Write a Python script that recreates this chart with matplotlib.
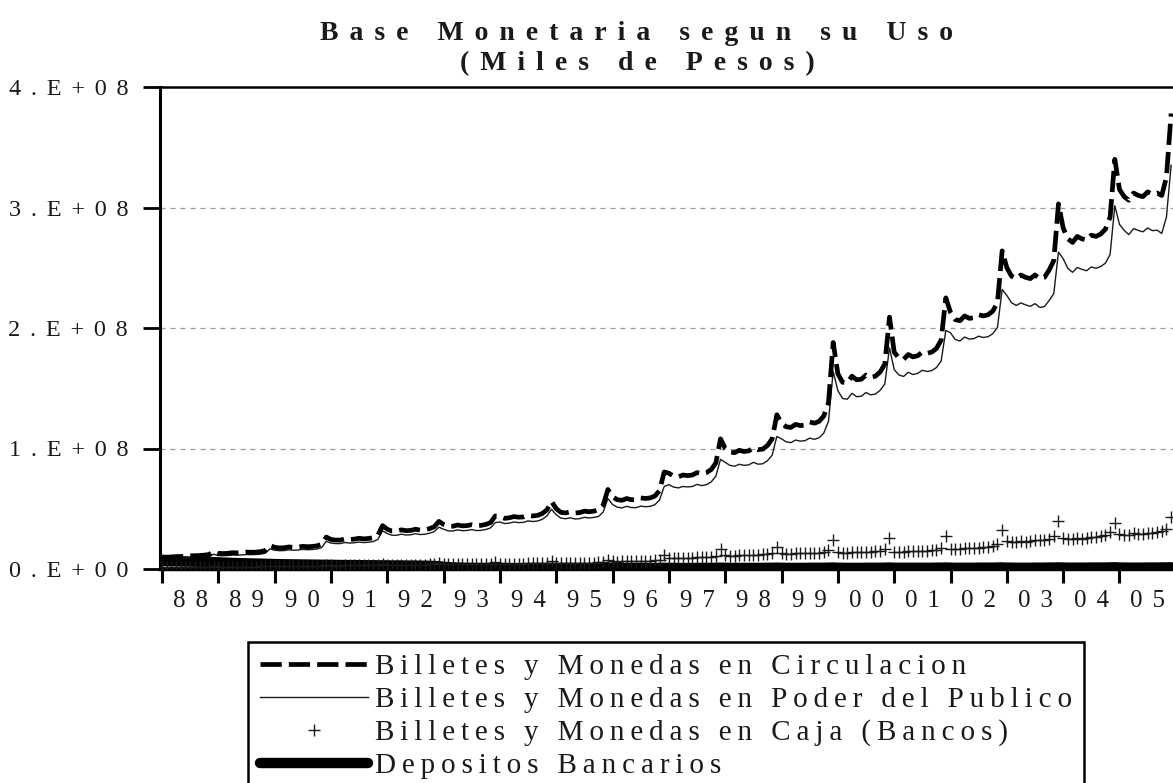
"""Base Monetaria segun su Uso (Miles de Pesos), 1988-2005, serie mensual."""
import numpy as np
import matplotlib
matplotlib.use("Agg")
import matplotlib.pyplot as plt

# ---------------------------------------------------------------------------
# Datos (millones = 1e6 miles de pesos), enero..diciembre
# ---------------------------------------------------------------------------
anio_inicio = 1988

circulacion = [
    10.0, 9.8, 10.0, 10.3, 10.4, 10.6, 11.0, 11.0, 11.2, 11.5, 12.0, 14.5,            # 88
    13.0, 12.8, 13.0, 13.5, 13.4, 13.6, 14.0, 13.9, 14.0, 14.4, 15.3, 19.5,           # 89
    18.0, 17.5, 17.6, 18.3, 18.0, 18.2, 18.8, 18.5, 18.7, 19.2, 20.5, 26.5,           # 90
    24.5, 24.0, 24.0, 25.0, 24.5, 24.8, 25.5, 25.0, 25.3, 26.0, 28.0, 36.0,           # 91
    33.0, 31.5, 31.5, 32.5, 31.8, 32.0, 33.0, 32.3, 32.5, 33.5, 35.0, 39.5,           # 92
    37.0, 35.5, 35.5, 36.5, 35.8, 36.0, 36.8, 36.0, 36.2, 37.0, 38.5, 44.0,           # 93
    43.5, 42.0, 42.5, 43.5, 43.0, 43.2, 44.5, 44.0, 44.5, 46.0, 49.0, 56.0,           # 94
    50.0, 47.0, 46.5, 47.5, 46.5, 46.8, 48.0, 47.5, 48.0, 49.0, 53.0, 66.0,           # 95
    60.0, 57.5, 57.0, 58.5, 57.5, 57.5, 59.0, 58.5, 59.0, 60.5, 65.0, 80.5,           # 96
    79.5, 77.0, 76.5, 78.0, 77.5, 78.0, 80.0, 79.0, 80.0, 82.5, 88.0, 108.0,          # 97
    100.0, 97.0, 96.5, 98.5, 97.5, 98.0, 100.5, 99.0, 99.5, 102.5, 108.0, 128.0,      # 98
    121.0, 118.0, 117.5, 120.0, 119.0, 119.5, 122.0, 121.0, 122.5, 127.0, 138.0, 188.0,  # 99
    162.0, 155.0, 154.5, 160.0, 157.0, 157.5, 161.0, 159.0, 160.0, 163.5, 170.0, 209.0,  # 00
    180.0, 175.0, 174.0, 178.0, 176.0, 177.0, 180.0, 179.0, 180.0, 183.0, 190.0, 225.0,  # 01
    213.0, 207.0, 206.0, 210.0, 208.0, 208.5, 211.0, 210.0, 211.0, 214.0, 221.0, 264.0,  # 02
    250.0, 243.0, 241.0, 244.0, 242.0, 241.0, 244.0, 241.0, 242.0, 248.0, 256.0, 303.0,  # 03
    283.0, 274.0, 271.0, 276.0, 274.0, 273.0, 277.0, 276.0, 278.0, 282.0, 292.0, 340.0,  # 04
    315.0, 309.0, 306.0, 312.0, 310.0, 309.0, 313.0, 311.0, 312.0, 310.0, 325.0, 378.0,  # 05
]

poder_publico = [
    8.5, 8.4, 8.6, 8.8, 8.9, 9.1, 9.4, 9.4, 9.6, 9.8, 10.2, 12.3,
    11.1, 11.0, 11.2, 11.6, 11.5, 11.7, 12.0, 11.9, 12.0, 12.3, 13.1, 16.7,
    15.6, 15.2, 15.3, 15.9, 15.6, 15.8, 16.3, 16.0, 16.2, 16.6, 17.7, 23.0,
    21.5, 21.1, 21.1, 22.0, 21.5, 21.8, 22.4, 21.9, 22.2, 22.8, 24.6, 31.7,
    29.4, 28.0, 28.0, 28.9, 28.2, 28.4, 29.3, 28.6, 28.8, 29.7, 31.0, 34.7,
    33.0, 31.6, 31.6, 32.5, 31.8, 32.0, 32.7, 31.9, 32.1, 32.8, 34.1, 38.5,
    39.0, 37.7, 38.1, 39.0, 38.5, 38.7, 39.9, 39.4, 39.8, 41.2, 44.0, 49.5,
    45.0, 42.2, 41.7, 42.5, 41.5, 41.8, 42.9, 42.4, 42.8, 43.6, 47.2, 58.5,
    53.5, 51.3, 50.7, 52.0, 51.0, 50.9, 52.2, 51.7, 52.0, 53.3, 57.2, 68.5,
    70.0, 68.0, 67.3, 68.5, 68.1, 68.5, 70.2, 69.2, 70.0, 72.2, 77.0, 91.0,
    88.5, 86.0, 85.3, 86.9, 86.0, 86.4, 88.5, 87.0, 87.3, 89.9, 94.5, 110.0,
    108.0, 105.5, 104.9, 107.0, 106.1, 106.5, 108.6, 107.6, 108.9, 112.8, 122.5, 164.0,
    148.0, 141.5, 140.9, 145.8, 143.0, 143.4, 146.5, 144.5, 145.2, 148.3, 153.5, 183.5,
    165.5, 161.0, 159.8, 163.2, 161.4, 162.3, 164.9, 163.9, 164.6, 167.2, 172.5, 198.0,
    196.0, 190.5, 189.2, 192.5, 190.8, 191.2, 193.2, 192.1, 192.8, 195.2, 200.5, 232.0,
    227.0, 221.0, 218.7, 220.8, 219.2, 218.0, 220.2, 217.1, 217.7, 222.8, 228.5, 263.0,
    257.5, 249.5, 246.2, 250.2, 248.7, 247.5, 250.7, 249.6, 251.0, 253.8, 261.0, 301.5,
    286.0, 281.0, 277.5, 282.5, 281.0, 279.8, 283.0, 280.8, 281.2, 278.5, 292.0, 335.0,
]

caja_bancos = [
    1.5, 1.4, 1.4, 1.5, 1.5, 1.5, 1.6, 1.6, 1.6, 1.7, 1.8, 2.2,
    1.9, 1.8, 1.8, 1.9, 1.9, 1.9, 2.0, 2.0, 2.0, 2.1, 2.2, 2.8,
    2.4, 2.3, 2.3, 2.4, 2.4, 2.4, 2.5, 2.5, 2.5, 2.6, 2.8, 3.5,
    3.0, 2.9, 2.9, 3.0, 3.0, 3.0, 3.1, 3.1, 3.1, 3.2, 3.4, 4.3,
    3.6, 3.5, 3.5, 3.6, 3.6, 3.6, 3.7, 3.7, 3.7, 3.8, 4.0, 4.8,
    4.0, 3.9, 3.9, 4.0, 4.0, 4.0, 4.1, 4.1, 4.1, 4.2, 4.4, 5.5,
    4.5, 4.3, 4.4, 4.5, 4.5, 4.5, 4.6, 4.6, 4.7, 4.8, 5.0, 6.5,
    5.0, 4.8, 4.8, 5.0, 5.0, 5.0, 5.1, 5.1, 5.2, 5.4, 5.8, 7.5,
    6.5, 6.2, 6.3, 6.5, 6.5, 6.6, 6.8, 6.8, 7.0, 7.2, 7.8, 12.0,
    9.5, 9.0, 9.2, 9.5, 9.4, 9.5, 9.8, 9.8, 10.0, 10.3, 11.0, 17.0,
    11.5, 11.0, 11.2, 11.6, 11.5, 11.6, 12.0, 12.0, 12.2, 12.6, 13.5, 18.0,
    13.0, 12.5, 12.6, 13.0, 12.9, 13.0, 13.4, 13.4, 13.6, 14.2, 15.5, 24.0,
    14.0, 13.5, 13.6, 14.2, 14.0, 14.1, 14.5, 14.5, 14.8, 15.2, 16.5, 25.5,
    14.5, 14.0, 14.2, 14.8, 14.6, 14.7, 15.1, 15.1, 15.4, 15.8, 17.5, 27.0,
    17.0, 16.5, 16.8, 17.5, 17.2, 17.3, 17.8, 17.9, 18.2, 18.8, 20.5, 32.0,
    23.0, 22.0, 22.3, 23.2, 22.8, 23.0, 23.8, 23.9, 24.3, 25.2, 27.5, 40.0,
    25.5, 24.5, 24.8, 25.8, 25.3, 25.5, 26.3, 26.4, 27.0, 28.2, 31.0, 38.5,
    29.0, 28.0, 28.5, 29.5, 29.0, 29.2, 30.0, 30.2, 30.8, 31.5, 33.0, 43.0,
]

depositos = [
    6.8, 6.7, 6.6, 6.5, 6.4, 6.3, 6.2, 6.1, 6.0, 5.9, 5.8, 5.7,
    5.5, 5.3, 5.2, 5.0, 4.9, 4.8, 4.7, 4.6, 4.5, 4.4, 4.3, 4.2,
    4.1, 4.0, 3.9, 3.9, 3.8, 3.8, 3.7, 3.7, 3.6, 3.6, 3.5, 3.5,
    3.4, 3.4, 3.3, 3.3, 3.2, 3.2, 3.2, 3.1, 3.1, 3.1, 3.0, 3.0,
    3.0, 2.9, 2.9, 2.9, 2.8, 2.8, 2.8, 2.7, 2.7, 2.6, 2.5, 2.3,
    1.8, 1.5, 1.3, 1.2, 1.1, 1.0, 1.0, 0.9, 0.9, 0.9, 0.9, 1.0,
    0.9, 0.9, 0.8, 0.8, 0.8, 0.8, 0.9, 0.8, 0.8, 0.8, 0.9, 1.0,
    0.9, 0.8, 0.8, 0.8, 0.8, 0.8, 0.8, 0.8, 0.8, 0.8, 0.9, 1.0,
    0.9, 0.8, 0.8, 0.8, 0.8, 0.8, 0.8, 0.8, 0.8, 0.9, 0.9, 1.0,
    0.9, 0.9, 0.8, 0.8, 0.8, 0.8, 0.9, 0.9, 0.9, 0.9, 1.0, 1.1,
    1.0, 0.9, 0.9, 0.9, 0.9, 0.9, 0.9, 0.9, 0.9, 1.0, 1.0, 1.1,
    1.0, 0.9, 0.9, 0.9, 0.9, 0.9, 1.0, 1.0, 1.0, 1.0, 1.1, 1.2,
    1.0, 1.0, 0.9, 0.9, 0.9, 0.9, 1.0, 1.0, 1.0, 1.0, 1.1, 1.2,
    1.0, 1.0, 1.0, 1.0, 1.0, 1.0, 1.0, 1.0, 1.0, 1.1, 1.1, 1.2,
    1.1, 1.0, 1.0, 1.0, 1.0, 1.0, 1.1, 1.1, 1.1, 1.1, 1.2, 1.3,
    1.1, 1.1, 1.0, 1.0, 1.0, 1.0, 1.1, 1.1, 1.1, 1.2, 1.2, 1.3,
    1.2, 1.1, 1.1, 1.1, 1.1, 1.1, 1.2, 1.2, 1.2, 1.2, 1.3, 1.4,
    1.2, 1.2, 1.1, 1.1, 1.1, 1.1, 1.2, 1.2, 1.2, 1.3, 1.3, 1.4,
]

etiquetas_anio = ["88", "89", "90", "91", "92", "93", "94", "95", "96",
                  "97", "98", "99", "00", "01", "02", "03", "04", "05"]
niveles_y = [0, 100, 200, 300, 400]
etiquetas_y = ["0.E+00", "1.E+08", "2.E+08", "3.E+08", "4.E+08"]
series = ["Billetes y Monedas en Circulacion",
          "Billetes y Monedas en Poder del Publico",
          "Billetes y Monedas en Caja (Bancos)",
          "Depositos Bancarios"]

THIN = "\u2009"
FUENTE = ["Liberation Serif", "DejaVu Serif"]
TINTA = "#1a1a1a"


def espaciar(texto, sep=THIN + THIN):
    """Imita el espaciado entre letras del original (escaneo de EViews)."""
    return sep.join(texto)


plt.rcParams["font.family"] = FUENTE

fechas = anio_inicio + np.arange(len(circulacion)) / 12.0

fig = plt.figure(figsize=(11.73, 7.83), dpi=100)
ax = fig.add_axes([160 / 1173, 214 / 783, 1013 / 1173, 482 / 783])

for y in niveles_y[1:-1]:
    ax.axhline(y, color="#9a9a9a", lw=0.9, ls=(0, (4, 4)), zorder=0)

ax.plot(fechas, depositos, color="black", lw=7.5, solid_capstyle="round",
        label=espaciar(series[3], THIN), zorder=2)
ax.plot(fechas, caja_bancos, ls="none", marker="+", ms=8, mew=1.0,
        color=TINTA, label=espaciar(series[2], THIN), zorder=3)
ax.plot(fechas, poder_publico, color=TINTA, lw=1.0,
        label=espaciar(series[1], THIN), zorder=4)
ax.plot(fechas, circulacion, color="black", lw=3.4, dashes=(4.5, 1.5),
        label=espaciar(series[0], THIN), zorder=5)

ax.set_xlim(anio_inicio - 0.035, 2005.95)
ax.set_ylim(niveles_y[0], niveles_y[-1])

# marcas en el primer mes de cada anio, etiqueta algo a la derecha
anios = anio_inicio + np.arange(len(etiquetas_anio))
ax.set_xticks(anios)
ax.set_xticklabels([])
ax.set_xticks(anios + 0.5, minor=True)
ax.set_xticklabels([espaciar(t) for t in etiquetas_anio], minor=True)
ax.tick_params(axis="x", which="major", direction="out", length=10, width=2.2,
               color="black")
ax.tick_params(axis="x", which="minor", length=0, pad=15, labelsize=18,
               labelcolor=TINTA)

ax.set_yticks(niveles_y)
ax.set_yticklabels([espaciar(t) for t in etiquetas_y])
ax.tick_params(axis="y", direction="out", length=12, width=2, color="black",
               pad=11, labelsize=17.5, labelcolor=TINTA)

ax.spines["right"].set_visible(False)
ax.spines["left"].set_linewidth(2.2)
ax.spines["top"].set_linewidth(1.8)
ax.spines["bottom"].set_linewidth(2.5)

fig.text(637 / 1173, 1 - 33 / 783, espaciar("Base Monetaria segun su Uso"),
         ha="center", va="center", fontsize=20, fontweight="bold", color=TINTA)
fig.text(637 / 1173, 1 - 64 / 783, espaciar("(Miles de Pesos)"),
         ha="center", va="center", fontsize=20, fontweight="bold", color=TINTA)

handles, labels = ax.get_legend_handles_labels()
leg = fig.legend(handles[::-1], labels[::-1], loc="upper left",
                 bbox_to_anchor=(248 / 1173, 1 - 642 / 783), borderaxespad=0,
                 fontsize=21, handlelength=3.7, handletextpad=0.25,
                 labelspacing=0.22, borderpad=0.4, fancybox=False,
                 edgecolor="black", framealpha=1)
leg.get_frame().set_linewidth(1.8)
for t in leg.get_texts():
    t.set_color(TINTA)

fig.savefig("out.png", dpi=100)
